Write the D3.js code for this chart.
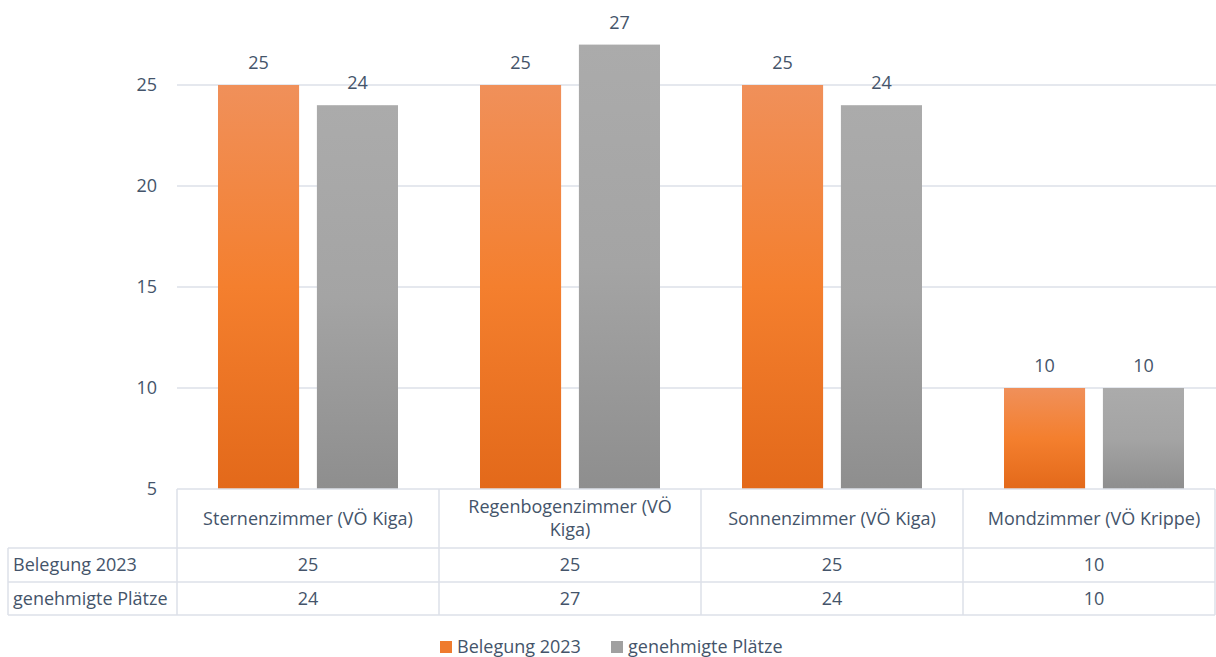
<!DOCTYPE html>
<html>
<head>
<meta charset="utf-8">
<script src="https://cdn.jsdelivr.net/npm/d3@7"></script>
<style>
  body { margin: 0; background: #fff; }
  text { font-family: "Open Sans", sans-serif; fill: #44546A; }
</style>
</head>
<body>
<div id="chart"></div>
<script>
const categories = [
  ["Sternenzimmer (VÖ Kiga)"],
  ["Regenbogenzimmer (VÖ", "Kiga)"],
  ["Sonnenzimmer (VÖ Kiga)"],
  ["Mondzimmer (VÖ Krippe)"],
];
const seriesNames = ["Belegung 2023", "genehmigte Plätze"];
const belegung = [25, 25, 25, 10];
const genehmigt = [24, 27, 24, 10];
const yTicks = [5, 10, 15, 20, 25];

const WIDTH = 1216;
const HEIGHT = 657;
const FONT = 18;

// the last column runs a bit past the picture edge
const plot = { left: 177, right: 1225, edge: 1215, bottom: 489 };
const table = { left: 8, headerBottom: 548, row1: 582, row2: 615 };

const svg = d3
  .select("#chart")
  .append("svg")
  .attr("width", WIDTH)
  .attr("height", HEIGHT);

//Gradients
const defs = svg.append("defs");
const gradients = [
  { id: "gOrange", stops: ["#F0905A", "#F47F2E", "#E3691A"] },
  { id: "gGray", stops: ["#ABABAB", "#A4A4A4", "#8E8E8E"] },
];
gradients.forEach((g) => {
  let lg = defs.append("linearGradient").attr("id", g.id)
    .attr("x1", 0).attr("y1", 0).attr("x2", 0).attr("y2", 1);
  g.stops.forEach((c, i) => {
    lg.append("stop").attr("offset", i / (g.stops.length - 1)).attr("stop-color", c);
  });
});
const swatch = ["#EF7B2E", "#A0A0A0"];

const x0 = d3.scaleBand()
  .domain(d3.range(categories.length))
  .range([plot.left, plot.right]);

const x1 = d3.scaleBand()
  .domain(seriesNames)
  .range([41, 221])
  .paddingInner(0.18);

const y = d3.scaleLinear().domain([5, 25]).range([plot.bottom, 85]);

const cellX = (i) => x0(i) + x0.bandwidth() / 2;

//Gridlines
svg.append("g")
  .selectAll("line")
  .data(yTicks.slice(1))
  .enter()
  .append("line")
  .attr("x1", plot.left)
  .attr("x2", WIDTH)
  .attr("y1", (d) => y(d))
  .attr("y2", (d) => y(d))
  .attr("stroke", "#DCE1E8")
  .attr("stroke-width", 1.3);

//Y tick labels
svg.append("g")
  .selectAll("text")
  .data(yTicks)
  .enter()
  .append("text")
  .attr("x", 157)
  .attr("y", (d) => y(d))
  .attr("dy", "0.35em")
  .attr("text-anchor", "end")
  .style("font-size", FONT + "px")
  .text((d) => d);

//Bars
const rows = seriesNames.map((name, s) => ({
  name: name,
  values: s === 0 ? belegung : genehmigt,
  fill: s === 0 ? "url(#gOrange)" : "url(#gGray)",
}));

rows.forEach((row) => {
  let g = svg.append("g");
  g.selectAll("rect")
    .data(row.values)
    .enter()
    .append("rect")
    .attr("x", (d, i) => x0(i) + x1(row.name))
    .attr("y", (d) => y(d))
    .attr("width", x1.bandwidth())
    .attr("height", (d) => y(5) - y(d))
    .attr("fill", row.fill);

  g.selectAll("text")
    .data(row.values)
    .enter()
    .append("text")
    .attr("x", (d, i) => x0(i) + x1(row.name) + x1.bandwidth() / 2)
    .attr("y", (d) => y(d) - 16)
    .attr("text-anchor", "middle")
    .style("font-size", FONT + "px")
    .text((d) => d);
});

//Data table
const border = "#DCE1E8";
const tbl = svg.append("g");
const hLines = [
  { y: plot.bottom, x1: plot.left, x2: plot.edge },
  { y: table.headerBottom, x1: table.left, x2: plot.edge },
  { y: table.row1, x1: table.left, x2: plot.edge },
  { y: table.row2, x1: table.left, x2: plot.edge },
];
tbl.selectAll("line.h")
  .data(hLines)
  .enter()
  .append("line")
  .attr("x1", (d) => d.x1)
  .attr("x2", (d) => d.x2)
  .attr("y1", (d) => d.y)
  .attr("y2", (d) => d.y)
  .attr("stroke", border)
  .attr("stroke-width", 1.5);

const vLines = d3.range(categories.length + 1).map((i) =>
  i < categories.length ? x0(i) : plot.edge
);
tbl.selectAll("line.v")
  .data(vLines)
  .enter()
  .append("line")
  .attr("x1", (d) => d)
  .attr("x2", (d) => d)
  .attr("y1", plot.bottom)
  .attr("y2", table.row2)
  .attr("stroke", border)
  .attr("stroke-width", 1.5);
tbl.append("line")
  .attr("x1", table.left).attr("x2", table.left)
  .attr("y1", table.headerBottom).attr("y2", table.row2)
  .attr("stroke", border).attr("stroke-width", 1.5);

//Header labels
const headerMid = (plot.bottom + table.headerBottom) / 2;
categories.forEach((lines, i) => {
  let t = tbl.append("text")
    .attr("x", cellX(i))
    .attr("y", headerMid - (lines.length - 1) * 11.5)
    .attr("text-anchor", "middle")
    .style("font-size", FONT + "px");
  lines.forEach((line, k) => {
    t.append("tspan")
      .attr("x", cellX(i))
      .attr("dy", k === 0 ? "0.35em" : "23")
      .text(line);
  });
});

//Row values
const rowMids = [
  (table.headerBottom + table.row1) / 2,
  (table.row1 + table.row2) / 2,
];
rows.forEach((row, r) => {
  tbl.append("text")
    .attr("x", 13)
    .attr("y", rowMids[r])
    .attr("dy", "0.35em")
    .style("font-size", FONT + "px")
    .text(row.name);
  tbl.selectAll("text.v" + r)
    .data(row.values)
    .enter()
    .append("text")
    .attr("x", (d, i) => cellX(i))
    .attr("y", rowMids[r])
    .attr("dy", "0.35em")
    .attr("text-anchor", "middle")
    .style("font-size", FONT + "px")
    .text((d) => d);
});

//Legend
const legendX = [440, 611];
const legend = svg.append("g");
seriesNames.forEach((name, i) => {
  legend.append("rect")
    .attr("x", legendX[i])
    .attr("y", 641)
    .attr("width", 12)
    .attr("height", 12)
    .attr("fill", swatch[i]);
  legend.append("text")
    .attr("x", legendX[i] + 17)
    .attr("y", 647)
    .attr("dy", "0.35em")
    .style("font-size", FONT + "px")
    .text(name);
});
</script>
</body>
</html>
